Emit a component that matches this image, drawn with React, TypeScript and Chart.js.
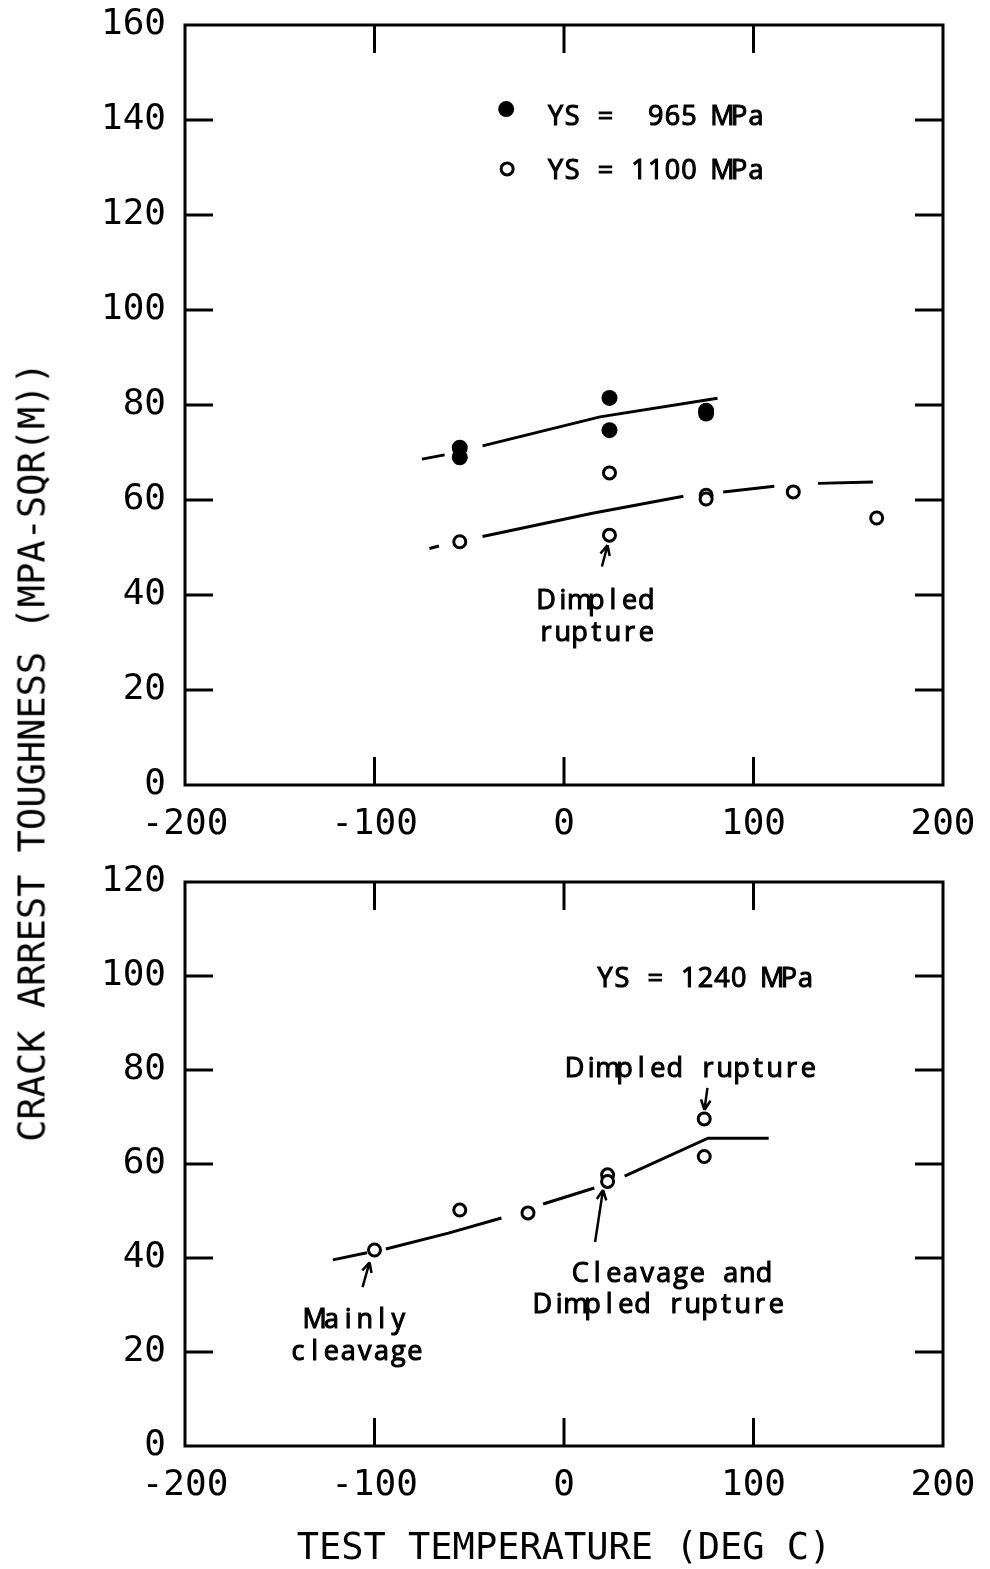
import React, { useEffect, useRef } from 'react';
import { Chart, registerables } from 'chart.js';

Chart.register(...registerables);

const MONO = '"DejaVu Sans Mono", monospace';
const NOTE_FONT = '27px "Open Sans", "DejaVu Sans", sans-serif';
const NOTE_PITCH = 16.7; // the plotter spaces every letter on a fixed pitch

// axis ticks
const tempTicks = [-200, -100, 0, 100, 200];
const topKTicks = [0, 20, 40, 60, 80, 100, 120, 140, 160];
const bottomKTicks = [0, 20, 40, 60, 80, 100, 120];

// upper panel, YS = 965 MPa (filled)
const ys965Temp = [-55, -55, 24, 24, 75, 75];
const ys965K = [71, 69, 81.5, 74.7, 78.8, 78.2];
// upper panel, YS = 1100 MPa (open)
const ys1100Temp = [-55, 24, 24, 75, 75, 121, 165];
const ys1100K = [51.2, 65.7, 52.6, 61, 60.2, 61.7, 56.2];
// lower panel, YS = 1240 MPa (open)
const ys1240Temp = [-100, -55, -19, 23, 23, 74, 74];
const ys1240K = [41.7, 50.2, 49.6, 57.7, 56.3, 69.6, 61.6];

// hand drawn trend lines; null leaves the gap where the pen stopped at a marker
const trend965Temp = [-75, -63, -59, -43, 19, 81];
const trend965K = [68.6, 69.5, null, 71.4, 77.5, 81.4];
const trend1100Temp = [-71, -66, -60, -43, 15, 63, 74, 84, 111, 121, 134, 163];
const trend1100K = [49.8, 50.3, null, 52.3, 57.2, 60.8, null, 61.7, 62.9, null, 63.5, 63.8];
const trend1240Temp = [-122, -104, -100, -94, -61, -33, -20, -11, 16, 23, 32, 76, 108];
const trend1240K = [39.6, 41.1, null, 41.9, 45.3, 48.5, null, 51.5, 54.9, null, 57.4, 65.5, 65.5];

const pts = (xs: number[], ys: (number | null)[]) => xs.map((x, i) => ({ x, y: ys[i] }));

type Note = { text: string; t: number; k: number; align?: 'left' | 'center' };
type Arrow = { from: [number, number]; to: [number, number] };
type Key = { text: string; filled: boolean; mt: number; mk: number; tt: number; tk: number };

// fixed pitch lettering, filled and lightly stroked to get the pen weight
function pitchText(ctx: CanvasRenderingContext2D, text: string, x: number, y: number, align = 'center') {
  const x0 = align === 'left' ? x : x - (text.length * NOTE_PITCH) / 2;
  ctx.textAlign = 'center';
  ctx.lineWidth = 1.1;
  for (let i = 0; i < text.length; i++) {
    const cx = x0 + NOTE_PITCH * (i + 0.5);
    ctx.fillText(text[i], cx, y);
    ctx.strokeText(text[i], cx, y);
  }
}

const framePlugin = {
  id: 'frame',
  afterDatasetsDraw(chart: any, _args: any, opts: any) {
    const { ctx, chartArea: a, scales: { x, y } } = chart;
    const L = 28;
    ctx.save();
    ctx.strokeStyle = '#000';
    ctx.fillStyle = '#000';
    ctx.lineWidth = 3;
    ctx.strokeRect(a.left, a.top, a.right - a.left, a.bottom - a.top);
    ctx.beginPath();
    x.ticks.forEach(({ value }: any) => {
      if (value <= x.min || value >= x.max) return;
      const px = x.getPixelForValue(value);
      ctx.moveTo(px, a.bottom);
      ctx.lineTo(px, a.bottom - L);
      ctx.moveTo(px, a.top);
      ctx.lineTo(px, a.top + L);
    });
    y.ticks.forEach(({ value }: any) => {
      if (value <= y.min || value >= y.max) return;
      const py = y.getPixelForValue(value);
      ctx.moveTo(a.left, py);
      ctx.lineTo(a.left + L, py);
      ctx.moveTo(a.right, py);
      ctx.lineTo(a.right - L, py);
    });
    ctx.stroke();

    ctx.font = NOTE_FONT;
    ctx.textBaseline = 'middle';
    (opts.notes || []).forEach((n: Note) => {
      pitchText(ctx, n.text, x.getPixelForValue(n.t), y.getPixelForValue(n.k), n.align);
    });

    (opts.arrows || []).forEach((ar: Arrow) => {
      const x0 = x.getPixelForValue(ar.from[0]);
      const y0 = y.getPixelForValue(ar.from[1]);
      const x1 = x.getPixelForValue(ar.to[0]);
      const y1 = y.getPixelForValue(ar.to[1]);
      const ang = Math.atan2(y1 - y0, x1 - x0);
      ctx.lineWidth = 2.5;
      ctx.beginPath();
      ctx.moveTo(x0, y0);
      ctx.lineTo(x1, y1);
      [0.45, -0.45].forEach((d) => {
        ctx.moveTo(x1, y1);
        ctx.lineTo(x1 - 11 * Math.cos(ang + d), y1 - 11 * Math.sin(ang + d));
      });
      ctx.stroke();
    });

    (opts.keys || []).forEach((k: Key) => {
      const mx = x.getPixelForValue(k.mt);
      const my = y.getPixelForValue(k.mk);
      ctx.beginPath();
      if (k.filled) {
        ctx.arc(mx, my, 8, 0, Math.PI * 2);
        ctx.fill();
      } else {
        ctx.lineWidth = 3;
        ctx.arc(mx, my, 6, 0, Math.PI * 2);
        ctx.stroke();
      }
      pitchText(ctx, k.text, x.getPixelForValue(k.tt), y.getPixelForValue(k.tk), 'left');
    });
    ctx.restore();
  },
};

const filledStyle = {
  showLine: false,
  pointRadius: 8,
  pointHoverRadius: 8,
  pointBackgroundColor: '#000',
  pointBorderWidth: 0,
};
const openStyle = {
  showLine: false,
  pointRadius: 6,
  pointHoverRadius: 6,
  pointBackgroundColor: '#fff',
  pointBorderColor: '#000',
  pointBorderWidth: 3,
};
const trendStyle = {
  showLine: true,
  spanGaps: false,
  borderColor: '#000',
  borderWidth: 3,
  pointRadius: 0,
  tension: 0,
};

type PanelProps = {
  kTicks: number[];
  datasets: any[];
  height: number;
  areaTop: number;
  xAxisHeight: number;
  xTitle?: string;
  notes?: Note[];
  arrows?: Arrow[];
  keys?: Key[];
};

function Panel(props: PanelProps) {
  const ref = useRef<HTMLCanvasElement>(null);
  useEffect(() => {
    const tickFont = { family: MONO, size: 36 };
    const chart = new Chart(ref.current as HTMLCanvasElement, {
      type: 'line',
      data: { datasets: props.datasets },
      plugins: [framePlugin],
      options: {
        animation: false,
        responsive: false,
        devicePixelRatio: 1,
        layout: { padding: { top: props.areaTop, right: 47, left: 0, bottom: 0 } },
        plugins: {
          legend: { display: false },
          tooltip: { enabled: false },
          frame: { notes: props.notes, arrows: props.arrows, keys: props.keys },
        } as any,
        scales: {
          x: {
            type: 'linear',
            min: tempTicks[0],
            max: tempTicks[tempTicks.length - 1],
            afterBuildTicks: (s: any) => { s.ticks = tempTicks.map((value) => ({ value })); },
            afterFit: (s: any) => {
              s.height = props.xAxisHeight;
              s.paddingLeft = 0;
              s.paddingRight = 0;
            },
            grid: { display: false },
            border: { display: false },
            ticks: { font: tickFont, color: '#000', padding: 10, maxRotation: 0 },
            title: {
              display: !!props.xTitle,
              text: props.xTitle || '',
              font: { family: MONO, size: 37 },
              color: '#000',
              padding: { top: 0, bottom: -3 },
            },
          },
          y: {
            type: 'linear',
            min: props.kTicks[0],
            max: props.kTicks[props.kTicks.length - 1],
            afterBuildTicks: (s: any) => { s.ticks = props.kTicks.map((value) => ({ value })); },
            afterFit: (s: any) => {
              s.width = 185;
              s.paddingTop = 0;
              s.paddingBottom = 0;
            },
            grid: { display: false },
            border: { display: false },
            ticks: { font: tickFont, color: '#000', padding: 11 },
          },
        },
      },
    });
    return () => chart.destroy();
  }, []);
  return <canvas ref={ref} width={990} height={props.height} style={{ display: 'block' }} />;
}

export default function App() {
  const topData = [
    { ...filledStyle, data: pts(ys965Temp, ys965K) },
    { ...openStyle, data: pts(ys1100Temp, ys1100K) },
    { ...trendStyle, data: pts(trend965Temp, trend965K) },
    { ...trendStyle, data: pts(trend1100Temp, trend1100K) },
  ];
  const bottomData = [
    { ...openStyle, data: pts(ys1240Temp, ys1240K) },
    { ...trendStyle, data: pts(trend1240Temp, trend1240K) },
  ];
  return (
    <div style={{ position: 'absolute', left: 0, top: 0, width: 990, height: 1569, background: '#fff' }}>
      <Panel
        kTicks={topKTicks}
        datasets={topData}
        height={860}
        areaTop={25}
        xAxisHeight={75}
        keys={[
          { text: 'YS =  965 MPa', filled: true, mt: -30.5, mk: 142.3, tt: -8.9, tk: 140.6 },
          { text: 'YS = 1100 MPa', filled: false, mt: -30, mk: 129.7, tt: -8.9, tk: 129.1 },
        ]}
        notes={[
          { text: 'Dimpled', t: 17, k: 38.7 },
          { text: 'rupture', t: 17, k: 32 },
        ]}
        arrows={[{ from: [20, 46], to: [23, 50.5] }]}
      />
      <Panel
        kTicks={bottomKTicks}
        datasets={bottomData}
        height={709}
        areaTop={22}
        xAxisHeight={123}
        xTitle="TEST TEMPERATURE (DEG C)"
        notes={[
          { text: 'YS = 1240 MPa', t: 74.6, k: 99.4 },
          { text: 'Dimpled rupture', t: 67.2, k: 80.2 },
          { text: 'Cleavage and', t: 57.1, k: 36.6 },
          { text: 'Dimpled rupture', t: 50.3, k: 30 },
          { text: 'Mainly', t: -109.5, k: 26.8 },
          { text: 'cleavage', t: -109.5, k: 20 },
        ]}
        arrows={[
          { from: [75.7, 76.2], to: [74.1, 71.5] },
          { from: [16.4, 43.4], to: [20.6, 54.5] },
          { from: [-106.3, 33.8], to: [-102.6, 39.1] },
        ]}
      />
      <div
        style={{
          position: 'absolute',
          left: 32,
          top: 752,
          transform: 'translate(-50%, -50%) rotate(-90deg)',
          whiteSpace: 'nowrap',
          fontFamily: MONO,
          fontSize: 37,
          lineHeight: 1,
          color: '#000',
        }}
      >
        CRACK ARREST TOUGHNESS (MPA-SQR(M))
      </div>
    </div>
  );
}
